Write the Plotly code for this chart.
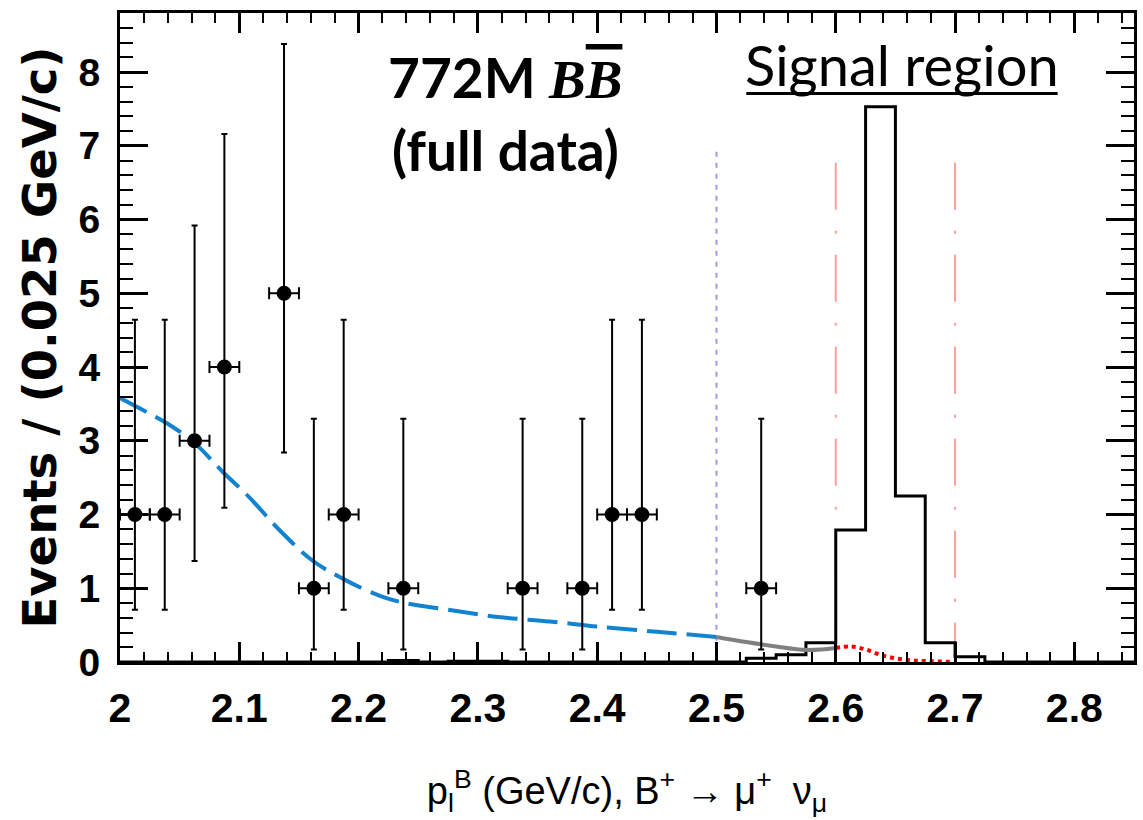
import plotly.graph_objects as go

# ---------------- data ----------------
# data points (bin centres, counts, Poisson asymmetric errors)
data_x = [2.0125, 2.0375, 2.0625, 2.0875, 2.1375, 2.1625, 2.1875, 2.2375,
          2.3375, 2.3875, 2.4125, 2.4375, 2.5375]
data_y = [2, 2, 3, 4, 5, 1, 2, 1, 1, 1, 2, 2, 1]
err_low = [1.29, 1.29, 1.63, 1.91, 2.16, 0.83, 1.29, 0.83, 0.83, 0.83, 1.29, 1.29, 0.83]
err_high = [2.64, 2.64, 2.92, 3.16, 3.38, 2.30, 2.64, 2.30, 2.30, 2.30, 2.64, 2.64, 2.30]
bin_width = 0.025

# background fit (blue dashed, below 2.5)
bkg_x = [2.0, 2.02, 2.04, 2.0625, 2.086, 2.108, 2.133, 2.161, 2.189, 2.219,
         2.239, 2.275, 2.317, 2.36, 2.4, 2.45, 2.5]
bkg_y = [3.58, 3.41, 3.23, 2.97, 2.58, 2.24, 1.80, 1.38, 1.11, 0.89,
         0.80, 0.71, 0.61, 0.55, 0.48, 0.41, 0.34]

# background continuation (grey, 2.5 - 2.6)
bkg2_x = [2.5, 2.525, 2.55, 2.572, 2.588, 2.6]
bkg2_y = [0.34, 0.27, 0.21, 0.165, 0.17, 0.19]

# background in signal region (red dotted)
bkg3_x = [2.6, 2.613, 2.625, 2.637, 2.65, 2.665, 2.68, 2.7]
bkg3_y = [0.19, 0.21, 0.17, 0.10, 0.05, 0.02, 0.01, 0.0]

# signal MC histogram (bins of 0.025 from 2.0)
hist_start = 2.0
hist_counts = [0, 0, 0, 0, 0, 0, 0, 0, 0, 0.02, 0, 0.01, 0.01, 0, 0, 0, 0,
               0, 0, 0, 0, 0.05, 0.10, 0.26, 1.79, 7.53, 2.25, 0.26, 0.07,
               0, 0, 0, 0, 0]

# region boundaries
sideband_cut = 2.5
signal_lo, signal_hi = 2.6, 2.7
cut_line_top = 6.92
signal_line_top = 6.77

x_ticks = [2.0, 2.1, 2.2, 2.3, 2.4, 2.5, 2.6, 2.7, 2.8]
x_labels = ["2", "2.1", "2.2", "2.3", "2.4", "2.5", "2.6", "2.7", "2.8"]
y_ticks = [0, 1, 2, 3, 4, 5, 6, 7, 8]

# ---------------- figure ----------------
fig = go.Figure()

# vertical lines
fig.add_trace(go.Scatter(x=[sideband_cut, sideband_cut], y=[cut_line_top, 0],
                         mode="lines", line=dict(color="#9b9be0", width=2, dash="5px,6px"),
                         showlegend=False, hoverinfo="skip"))
for xv in (signal_lo, signal_hi):
    fig.add_trace(go.Scatter(x=[xv, xv], y=[signal_line_top, 0], mode="lines",
                             line=dict(color="#ff9c9c", width=2, dash="47px,21px,3px,21px"),
                             showlegend=False, hoverinfo="skip"))

# histogram
edges = [hist_start + bin_width * i for i in range(len(hist_counts) + 1)]
fig.add_trace(go.Scatter(x=edges, y=hist_counts + [hist_counts[-1]], mode="lines",
                         line=dict(color="black", width=3, shape="hv"),
                         showlegend=False, hoverinfo="skip"))

# background curves
fig.add_trace(go.Scatter(x=bkg_x, y=bkg_y, mode="lines",
                         line=dict(color="#1383d0", width=4, dash="30px,10px", shape="spline"),
                         showlegend=False))
fig.add_trace(go.Scatter(x=bkg2_x, y=bkg2_y, mode="lines",
                         line=dict(color="#808080", width=4, shape="spline"),
                         showlegend=False))
fig.add_trace(go.Scatter(x=bkg3_x, y=bkg3_y, mode="lines",
                         line=dict(color="#ff0000", width=4, dash="dot", shape="spline"),
                         showlegend=False))

# data points
fig.add_trace(go.Scatter(
    x=data_x, y=data_y, mode="markers",
    marker=dict(color="black", size=15),
    error_y=dict(type="data", symmetric=False, array=err_high, arrayminus=err_low,
                 color="black", thickness=2, width=3),
    error_x=dict(type="data", array=[bin_width / 2] * len(data_x),
                 color="black", thickness=2, width=6),
    showlegend=False))

sans = "Liberation Sans, Arial"

fig.update_layout(
    width=1143, height=820,
    margin=dict(l=120, r=6, t=13, b=158),
    plot_bgcolor="white", paper_bgcolor="white",
    showlegend=False,
    xaxis=dict(
        range=[2.0, 2.85], tickmode="array", tickvals=x_ticks, ticktext=x_labels,
        ticks="inside", ticklen=20, tickwidth=2.5, tickcolor="black",
        minor=dict(tickmode="linear", tick0=2.0, dtick=0.02, ticks="inside",
                   ticklen=10, tickwidth=2, tickcolor="black"),
        showline=True, linewidth=3, linecolor="black", mirror="allticks",
        showgrid=False, zeroline=False,
        tickfont=dict(family=sans, size=41, color="black", weight="bold"),
        ticklabelstandoff=8,
        title=dict(text="p<sub>l</sub><sup>B</sup> (GeV/c), B<sup>+</sup> \u2192 \u03bc<sup>+</sup>  \u03bd<sub>\u03bc</sub>",
                   font=dict(family=sans, size=38, color="black"), standoff=48),
    ),
    yaxis=dict(
        range=[0, 8.8], tickmode="array", tickvals=y_ticks,
        ticks="inside", ticklen=28, tickwidth=2.5, tickcolor="black",
        minor=dict(tickmode="linear", tick0=0, dtick=0.2, ticks="inside",
                   ticklen=13, tickwidth=2, tickcolor="black"),
        showline=True, linewidth=3, linecolor="black", mirror="allticks",
        showgrid=False, zeroline=False,
        tickfont=dict(family=sans, size=39, color="black", weight="bold"),
        ticklabelstandoff=9,
        title=dict(text="Events / (0.025 GeV/c)",
                   font=dict(family="DejaVu Sans", size=46.5, color="black", weight="bold"),
                   standoff=8),
    ),
)

fig.add_annotation(x=2.3225, y=7.93, xref="x", yref="y", showarrow=False,
                   text="772M <span style=\"font-family:'Liberation Serif';font-style:italic\">B</span>"
                        "<span style=\"font-family:'Liberation Serif';font-style:italic;text-decoration:overline\">B</span>",
                   font=dict(family="Lato", size=55, color="black", weight="bold"))
fig.add_annotation(x=2.3235, y=6.94, xref="x", yref="y", showarrow=False,
                   text="(full data)",
                   font=dict(family="Lato", size=55, color="black", weight="bold"))
fig.add_annotation(x=2.6555, y=8.1, xref="x", yref="y", showarrow=False,
                   text="Signal region",
                   font=dict(family="Lato", size=56, color="black"))
# underline of the "Signal region" label
fig.add_shape(type="line", xref="x", yref="y", x0=2.525, x1=2.786, y0=7.71, y1=7.71,
              line=dict(color="black", width=3))

fig.write_html("out.html", config={"displayModeBar": False},
               post_script="document.body.style.margin='0';")
